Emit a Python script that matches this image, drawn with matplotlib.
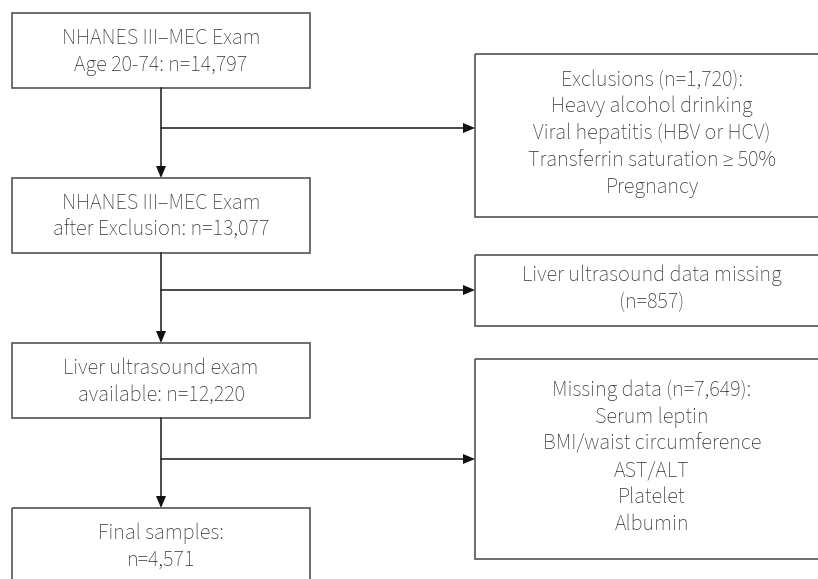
# Flow chart of sample selection (NHANES III)
import matplotlib.pyplot as plt
from matplotlib.patches import Rectangle, Polygon

# Text of each box
main_boxes = [
    "NHANES III\u2013MEC Exam\nAge 20-74: n=14,797",
    "NHANES III\u2013MEC Exam\nafter Exclusion: n=13,077",
    "Liver ultrasound exam\navailable: n=12,220",
    "Final samples:\nn=4,571",
]
side_boxes = [
    "Exclusions (n=1,720):\nHeavy alcohol drinking\nViral hepatitis (HBV or HCV)\n"
    "Transferrin saturation \u2265 50%\nPregnancy",
    "Liver ultrasound data missing\n(n=857)",
    "Missing data (n=7,649):\nSerum leptin\nBMI/waist circumference\nAST/ALT\nPlatelet\nAlbumin",
]

# Layout in pixels (y downwards)
main_x0, main_x1 = 12, 310
main_tops = [13, 178, 343, 508]
main_h = 75
side_x0, side_x1 = 475, 831
side_spans = [(54, 217), (255, 326), (359, 559)]
branch_y = [128, 290, 459]
spine_x = 161

line_color = "#2b2b2b"
border_color = "#555555"
text_color = "#333333"
font = ["Source Sans 3", "DejaVu Sans"]
fsize = 15.9
lspace = 1.32

fig = plt.figure(figsize=(8.18, 5.79), dpi=100)
ax = fig.add_axes([0, 0, 1, 1])
ax.set_xlim(0, 818)
ax.set_ylim(579, 0)
ax.axis("off")


def arrow_head(x, y, direction):
    # filled triangle with tip at (x, y)
    L, W = 12, 5
    if direction == "down":
        pts = [(x, y), (x - W, y - L), (x + W, y - L)]
    else:
        pts = [(x, y), (x - L, y - W), (x - L, y + W)]
    ax.add_patch(Polygon(pts, closed=True, color="#111111", lw=0, zorder=3))


def box_text(x, y, label):
    ax.text(x, y, label, ha="center", va="center", fontsize=fsize,
            family=font, fontweight="light", color=text_color,
            linespacing=lspace)


# main boxes
for label, top in zip(main_boxes, main_tops):
    ax.add_patch(Rectangle((main_x0, top), main_x1 - main_x0, main_h,
                           fill=False, ec=border_color, lw=1.2, clip_on=False))
    box_text((main_x0 + main_x1) / 2, top + main_h / 2 + 1, label)

# side boxes
for label, (top, bottom) in zip(side_boxes, side_spans):
    ax.add_patch(Rectangle((side_x0, top), side_x1 - side_x0, bottom - top,
                           fill=False, ec=border_color, lw=1.2, clip_on=False))
    box_text((side_x0 + side_x1) / 2 - 1, (top + bottom) / 2 - 2, label)

# vertical arrows between main boxes and branches to side boxes
for i, by in enumerate(branch_y):
    y0 = main_tops[i] + main_h
    y1 = main_tops[i + 1]
    ax.plot([spine_x, spine_x], [y0, y1 - 10], color=line_color, lw=1.2)
    arrow_head(spine_x, y1, "down")
    ax.plot([spine_x, side_x0 - 10], [by, by], color=line_color, lw=1.2)
    arrow_head(side_x0, by, "right")

fig.savefig("out.png", dpi=100)
